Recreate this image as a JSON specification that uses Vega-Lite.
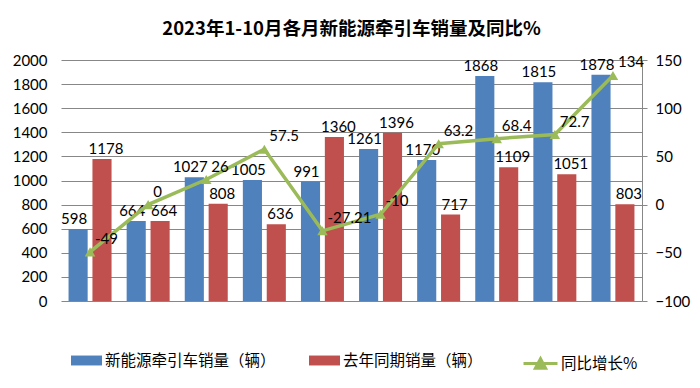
{
  "$schema": "https://vega.github.io/schema/vega-lite/v6.json",
  "width": 581,
  "height": 241,
  "autosize": {"type": "none"},
  "padding": {"left": 61, "top": 60, "right": 58, "bottom": 87},
  "background": "white",
  "title": {
    "text": "2023年1-10月各月新能源牵引车销量及同比%",
    "font": "Noto Sans CJK SC",
    "fontSize": 18.5,
    "fontWeight": "bold",
    "color": "#000000",
    "anchor": "middle",
    "offset": 15
  },
  "datasets": {
    "bars": [
      {"month": "1月", "series": "新能源牵引车销量（辆）", "value": 598},
      {"month": "1月", "series": "去年同期销量（辆）", "value": 1178},
      {"month": "2月", "series": "新能源牵引车销量（辆）", "value": 664},
      {"month": "2月", "series": "去年同期销量（辆）", "value": 664},
      {"month": "3月", "series": "新能源牵引车销量（辆）", "value": 1027},
      {"month": "3月", "series": "去年同期销量（辆）", "value": 808},
      {"month": "4月", "series": "新能源牵引车销量（辆）", "value": 1005},
      {"month": "4月", "series": "去年同期销量（辆）", "value": 636},
      {"month": "5月", "series": "新能源牵引车销量（辆）", "value": 991},
      {"month": "5月", "series": "去年同期销量（辆）", "value": 1360},
      {"month": "6月", "series": "新能源牵引车销量（辆）", "value": 1261},
      {"month": "6月", "series": "去年同期销量（辆）", "value": 1396},
      {"month": "7月", "series": "新能源牵引车销量（辆）", "value": 1170},
      {"month": "7月", "series": "去年同期销量（辆）", "value": 717},
      {"month": "8月", "series": "新能源牵引车销量（辆）", "value": 1868},
      {"month": "8月", "series": "去年同期销量（辆）", "value": 1109},
      {"month": "9月", "series": "新能源牵引车销量（辆）", "value": 1815},
      {"month": "9月", "series": "去年同期销量（辆）", "value": 1051},
      {"month": "10月", "series": "新能源牵引车销量（辆）", "value": 1878},
      {"month": "10月", "series": "去年同期销量（辆）", "value": 803}
    ],
    "yoy": [
      {"month": "1月", "yoy": -49, "label": "-49"},
      {"month": "2月", "yoy": 0, "label": "0"},
      {"month": "3月", "yoy": 26, "label": "26"},
      {"month": "4月", "yoy": 57.5, "label": "57.5"},
      {"month": "5月", "yoy": -27.21, "label": "-27.21"},
      {"month": "6月", "yoy": -10, "label": "-10"},
      {"month": "7月", "yoy": 63.2, "label": "63.2"},
      {"month": "8月", "yoy": 68.4, "label": "68.4"},
      {"month": "9月", "yoy": 72.7, "label": "72.7"},
      {"month": "10月", "yoy": 134, "label": "134"}
    ]
  },
  "layer": [
    {
      "data": {"name": "bars"},
      "encoding": {
        "x": {
          "field": "month",
          "type": "nominal",
          "sort": ["1月", "2月", "3月", "4月", "5月", "6月", "7月", "8月", "9月", "10月"],
          "scale": {"paddingInner": 0.26, "paddingOuter": 0.13},
          "axis": {
            "title": null,
            "labelAngle": 0,
            "labelFont": "Noto Sans CJK SC",
            "labelFontSize": 16,
            "labelColor": "#000000",
            "labelPadding": 12,
            "ticks": false,
            "domain": true,
            "domainColor": "#878787",
            "grid": false
          }
        },
        "xOffset": {
          "field": "series",
          "type": "nominal",
          "sort": ["新能源牵引车销量（辆）", "去年同期销量（辆）"],
          "scale": {"paddingInner": 0.2}
        },
        "y": {
          "field": "value",
          "type": "quantitative",
          "scale": {"domain": [0, 2000], "nice": false},
          "axis": {
            "title": null,
            "orient": "left",
            "values": [0, 200, 400, 600, 800, 1000, 1200, 1400, 1600, 1800, 2000],
            "format": "d",
            "domain": false,
            "ticks": false,
            "grid": true,
            "gridColor": "#878787",
            "gridWidth": 1,
            "labelFont": "Lato",
            "labelFontSize": 15,
            "labelColor": "#000000",
            "labelPadding": 14
          }
        }
      },
      "layer": [
        {
          "mark": {"type": "bar"},
          "encoding": {
            "color": {
              "field": "series",
              "type": "nominal",
              "scale": {
                "domain": ["新能源牵引车销量（辆）", "去年同期销量（辆）"],
                "range": ["#4F81BD", "#C0504D"]
              },
              "legend": {
                "title": null,
                "orient": "none",
                "legendX": 10,
                "legendY": 285,
                "direction": "horizontal",
                "symbolType": "M-1,-0.32H1V0.32H-1Z",
                "symbolSize": 961,
                "symbolStrokeWidth": 0,
                "labelFont": "Noto Sans CJK SC",
                "labelFontSize": 15.5,
                "labelColor": "#000000",
                "labelOffset": 3,
                "labelLimit": 300,
                "columnPadding": 33
              }
            }
          }
        },
        {
          "transform": [{"filter": "datum.series === '新能源牵引车销量（辆）'"}],
          "mark": {"type": "text", "dy": -10, "dx": -4, "font": "Lato", "fontSize": 15, "color": "#000000"},
          "encoding": {"text": {"field": "value", "type": "quantitative"}}
        },
        {
          "transform": [{"filter": "datum.series === '去年同期销量（辆）'"}],
          "mark": {"type": "text", "dy": -10, "dx": 4, "font": "Lato", "fontSize": 15, "color": "#000000"},
          "encoding": {"text": {"field": "value", "type": "quantitative"}}
        }
      ]
    },
    {
      "data": {"name": "yoy"},
      "encoding": {
        "x": {
          "field": "month",
          "type": "nominal",
          "sort": ["1月", "2月", "3月", "4月", "5月", "6月", "7月", "8月", "9月", "10月"],
          "axis": null
        },
        "y": {
          "field": "yoy",
          "type": "quantitative",
          "scale": {"domain": [-100, 150], "nice": false},
          "axis": {
            "title": null,
            "orient": "right",
            "values": [-100, -50, 0, 50, 100, 150],
            "grid": false,
            "domain": true,
            "domainColor": "#878787",
            "ticks": true,
            "tickColor": "#878787",
            "tickSize": 5,
            "labelFont": "Lato",
            "labelFontSize": 15,
            "labelColor": "#000000",
            "labelPadding": 8
          }
        }
      },
      "layer": [
        {
          "mark": {"type": "line", "strokeWidth": 3.5},
          "encoding": {
            "stroke": {
              "datum": "同比增长%",
              "type": "nominal",
              "scale": {"domain": ["同比增长%"], "range": ["#9BBB59"]},
              "legend": {
                "title": null,
                "orient": "none",
                "legendX": 461,
                "legendY": 285,
                "symbolType": "M-1,0H1M-0.3,0.28L0,-0.28L0.3,0.28Z",
                "symbolSize": 1156,
                "symbolStrokeWidth": 3,
                "symbolFillColor": "#9BBB59",
                "labelFont": "Noto Sans CJK SC",
                "labelFontSize": 15.5,
                "labelColor": "#000000",
                "labelOffset": 2
              }
            }
          }
        },
        {
          "mark": {"type": "point", "shape": "triangle-up", "filled": true, "size": 110, "color": "#9BBB59", "opacity": 1}
        },
        {
          "mark": {"type": "text", "align": "left", "dx": 5, "dy": -13, "font": "Lato", "fontSize": 15, "color": "#000000"},
          "encoding": {"text": {"field": "label", "type": "nominal"}}
        }
      ]
    }
  ],
  "resolve": {"scale": {"y": "independent"}},
  "config": {
    "view": {"stroke": null}
  }
}
